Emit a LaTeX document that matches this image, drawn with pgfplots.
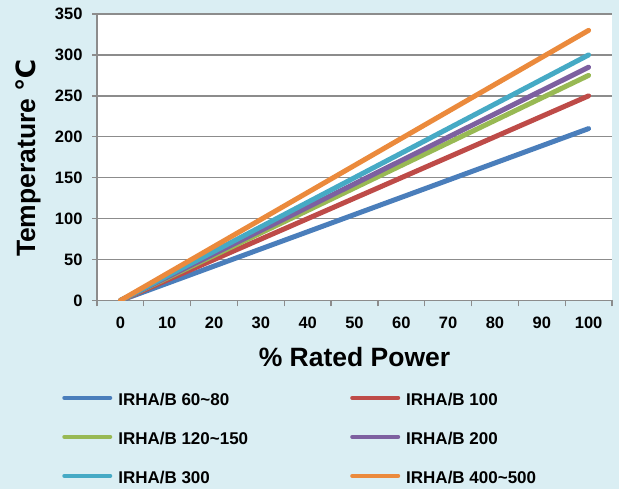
\documentclass[border=0pt]{standalone}
\usepackage{fontspec}
\setmainfont{Liberation Sans}
\newfontfamily\dejavu{DejaVu Sans}
\usepackage{pgfplots}
\pgfplotsset{compat=1.18}
\definecolor{bg}{HTML}{DAEEF3}
\definecolor{gridc}{HTML}{8C8C8C}
\definecolor{c1}{HTML}{4A7EBB}
\definecolor{c2}{HTML}{BE4B48}
\definecolor{c3}{HTML}{98B954}
\definecolor{c4}{HTML}{7D60A0}
\definecolor{c5}{HTML}{46AAC5}
\definecolor{c6}{HTML}{EB8A3C}
\begin{document}
\begin{tikzpicture}[x=1pt,y=1pt]
\fill[bg] (0,0) rectangle (619,489);
\useasboundingbox (0,0) rectangle (619,489);
\begin{axis}[at={(97pt,188.5pt)}, anchor=south west, scale only axis,
  width=515pt, height=286.5pt,
  xmin=-5, xmax=105, ymin=0, ymax=350,
  axis background/.style={fill=white},
  axis x line*=bottom, axis y line*=left,
  axis line style={draw=gridc, line width=1.3pt},
  xtick={0,10,...,100}, minor xtick={-5,5,...,105}, ytick={0,50,...,350},
  tick align=outside, major tick length=5pt, minor tick length=6pt,
  tick style={draw=gridc, line width=1.3pt},
  major x tick style={draw=none},
  ymajorgrids, major grid style={draw=gridc, line width=1.3pt},
  /pgf/number format/assume math mode=true,
  ticklabel style={font=\fontsize{16.5}{16.5}\selectfont\bfseries},
  yticklabel style={xshift=-6pt},
  xticklabel style={yshift=-8pt},
  legend columns=2,
  legend style={draw=none, fill=none, inner sep=0pt,
    at={(axis description cs:-0.0678,-0.3225)}, anchor=north west,
    font=\fontsize{17}{17}\selectfont\bfseries,
    row sep=26.5pt,
    nodes={inner sep=0pt, text height=12.5pt, text depth=0pt},
    /tikz/every odd column/.append style={column sep=6pt},
    /tikz/every even column/.append style={column sep=102pt}},
  legend cell align=left,
  legend image code/.code={\draw[#1, line width=4pt, line cap=round] (0pt,1.5pt) -- (46pt,1.5pt);},
  every axis plot/.append style={line width=5pt, line cap=round},
]
\addplot[c1] coordinates {(0,0) (100,210)};
\addlegendentry{IRHA/B 60\textasciitilde 80}
\addplot[c2] coordinates {(0,0) (100,250)};
\addlegendentry{IRHA/B 100}
\addplot[c3] coordinates {(0,0) (100,275)};
\addlegendentry{IRHA/B 120\textasciitilde 150}
\addplot[c4] coordinates {(0,0) (100,285)};
\addlegendentry{IRHA/B 200}
\addplot[c5] coordinates {(0,0) (100,300)};
\addlegendentry{IRHA/B 300}
\addplot[c6] coordinates {(0,0) (100,330)};
\addlegendentry{IRHA/B 400\textasciitilde 500}
\end{axis}
\node[rotate=90, anchor=base, font=\fontsize{26.5}{26.5}\selectfont\bfseries] at (35,331) {Temperature {\dejavu\bfseries ℃}};
\node[anchor=base, font=\fontsize{26.5}{26.5}\selectfont\bfseries] at (354.5,122) {\% Rated Power};
\end{tikzpicture}
\end{document}
